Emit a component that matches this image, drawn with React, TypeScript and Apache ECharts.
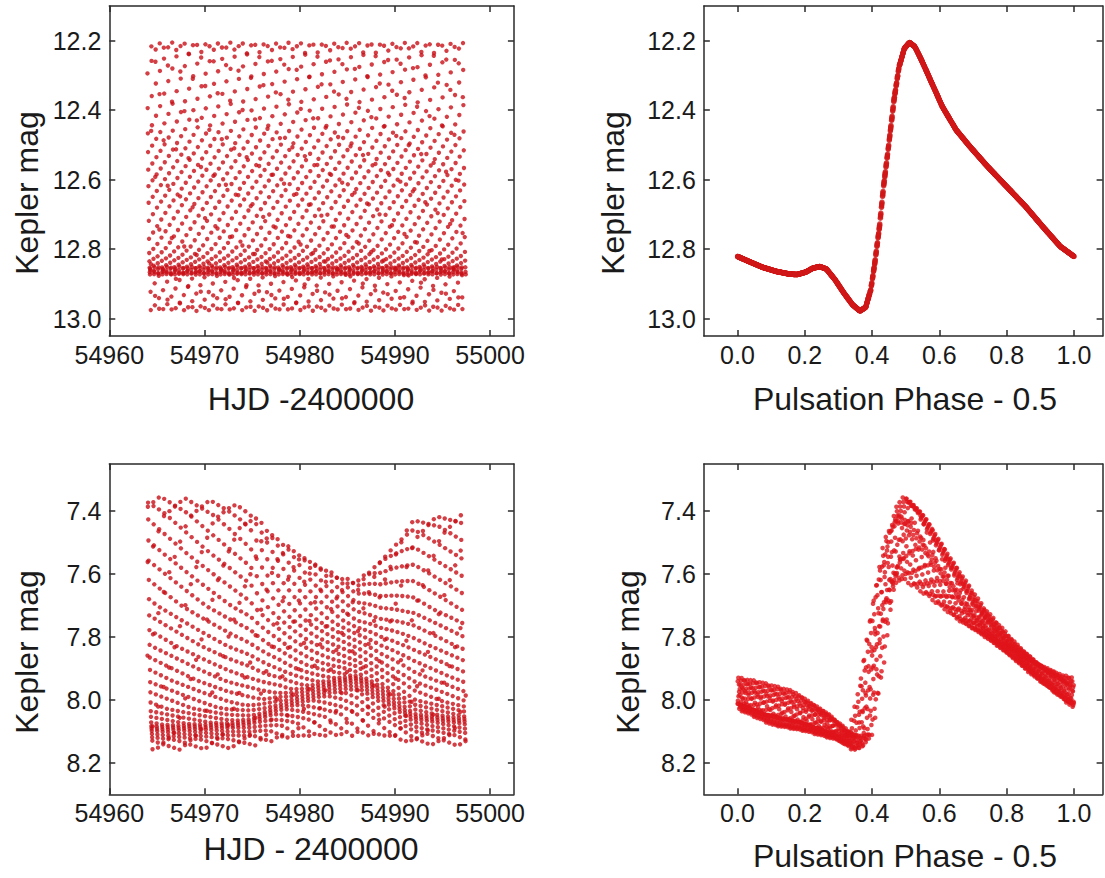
import React, { useEffect, useRef } from "react";
import * as echarts from "echarts";

// ---------- Observation window (Kepler Q1 long cadence) ----------
const obsStart = 54964.01;
const obsEnd = 54997.45;
const cadence = 0.020434; // days

// ---------- Top star (non-modulated RRab) ----------
const topPeriod = 0.4364;
const topEpoch = 54964.2;
// light curve (phase, Kepler mag)
const topPhase = [0.0, 0.033, 0.074, 0.115, 0.156, 0.177, 0.203, 0.223, 0.244, 0.264, 0.29, 0.316, 0.342, 0.364, 0.381, 0.396, 0.408, 0.422, 0.434, 0.45, 0.465, 0.48, 0.496, 0.511, 0.527, 0.547, 0.578, 0.609, 0.65, 0.691, 0.743, 0.8, 0.856, 0.907, 0.959, 1.0];
const topMag = [12.821, 12.835, 12.852, 12.864, 12.872, 12.873, 12.866, 12.855, 12.85, 12.857, 12.888, 12.926, 12.96, 12.978, 12.967, 12.917, 12.84, 12.735, 12.62, 12.495, 12.371, 12.275, 12.222, 12.205, 12.217, 12.256, 12.323, 12.39, 12.457, 12.505, 12.562, 12.62, 12.677, 12.735, 12.792, 12.821];

// ---------- Bottom star (RR Lyr, Blazhko-modulated) ----------
const botPeriod = 0.566788;
const botEpoch = 54964.35;
// light curves at large and small Blazhko amplitude
const botPhase = [0.0, 0.1, 0.2, 0.3, 0.34, 0.37, 0.4, 0.43, 0.46, 0.49, 0.53, 0.6, 0.7, 0.8, 0.9, 1.0];
const botMagLargeAmp = [8.03, 8.08, 8.1, 8.13, 8.16, 8.1, 7.86, 7.6, 7.41, 7.35, 7.4, 7.53, 7.7, 7.83, 7.94, 8.03];
const botMagSmallAmp = [7.92, 7.94, 7.97, 8.04, 8.09, 8.12, 8.04, 7.88, 7.73, 7.64, 7.62, 7.67, 7.75, 7.81, 7.87, 7.92];
// Blazhko state over time, read off the bottom-left envelopes
// (0 = large amplitude, 1 = small amplitude; shift = pulsation phase shift)
const blazhkoTime = [54964, 54969.5, 54972.5, 54974.8, 54977.8, 54981.2, 54984.5, 54986, 54988.6, 54992, 54997.5];
const blazhkoState = [0, 0.04, 0.07, 0.15, 0.48, 0.74, 0.96, 1.0, 0.72, 0.26, 0.19];
const blazhkoShift = [0.0, -0.015, -0.025, -0.035, -0.02, 0.01, 0.03, 0.04, 0.045, 0.025, 0.005];

// ---------- Axes ----------
const hjdTicks = [54960, 54970, 54980, 54990, 55000];
const phaseTicks = [0, 0.2, 0.4, 0.6, 0.8, 1.0];
const topMagTicks = [12.2, 12.4, 12.6, 12.8, 13.0];
const botMagTicks = [7.4, 7.6, 7.8, 8.0, 8.2];

function interp(xs: number[], ys: number[], x: number): number {
  if (x <= xs[0]) return ys[0];
  for (let i = 1; i < xs.length; i++) {
    if (x <= xs[i]) {
      const f = (x - xs[i - 1]) / (xs[i] - xs[i - 1]);
      return ys[i - 1] + f * (ys[i] - ys[i - 1]);
    }
  }
  return ys[ys.length - 1];
}
function frac(v: number) {
  return v - Math.floor(v);
}

const times: number[] = [];
for (let t = obsStart; t <= obsEnd; t += cadence) times.push(t);

const topTimeData: number[][] = [];
const topPhaseData: number[][] = [];
const botTimeData: number[][] = [];
const botPhaseData: number[][] = [];
times.forEach((t) => {
  const p1 = frac((t - topEpoch) / topPeriod);
  const m1 = interp(topPhase, topMag, p1);
  topTimeData.push([t, m1]);
  topPhaseData.push([p1, m1]);
  const p2 = frac((t - botEpoch) / botPeriod);
  const w = interp(blazhkoTime, blazhkoState, t);
  const q = frac(p2 + interp(blazhkoTime, blazhkoShift, t));
  const m2 = (1 - w) * interp(botPhase, botMagLargeAmp, q) + w * interp(botPhase, botMagSmallAmp, q);
  botTimeData.push([t, m2]);
  botPhaseData.push([p2, m2]);
});

const FONT = "'Liberation Sans', Arial, Helvetica, sans-serif";
const AX = "#2a2a2a";
const TXT = "#1a1a1a";

function xAxes(gridIndex: number, min: number, max: number, ticks: number[], fmt: (v: number) => string) {
  const base = {
    type: "value",
    gridIndex,
    min,
    max,
    splitLine: { show: false },
    axisLine: { show: true, onZero: false, lineStyle: { color: AX, width: 1.5 } },
    axisTick: { show: true, inside: true, length: 6, customValues: ticks, lineStyle: { color: AX, width: 1.5 } },
  };
  return [
    {
      ...base,
      position: "bottom",
      axisLabel: { show: true, customValues: ticks, formatter: fmt, color: TXT, fontSize: 25, fontFamily: FONT, margin: 6 },
    },
    { ...base, position: "top", axisLabel: { show: false } },
  ];
}
function yAxes(gridIndex: number, min: number, max: number, ticks: number[]) {
  const base = {
    type: "value",
    gridIndex,
    min,
    max,
    inverse: true,
    splitLine: { show: false },
    axisLine: { show: true, onZero: false, lineStyle: { color: AX, width: 1.5 } },
    axisTick: { show: true, inside: true, length: 6, customValues: ticks, lineStyle: { color: AX, width: 1.5 } },
  };
  return [
    {
      ...base,
      position: "left",
      axisLabel: { show: true, customValues: ticks, formatter: (v: number) => v.toFixed(1), color: TXT, fontSize: 25, fontFamily: FONT, margin: 8 },
    },
    { ...base, position: "right", axisLabel: { show: false } },
  ];
}

function title(text: string, x: number, y: number, rotated: boolean) {
  return {
    type: "text",
    x,
    y,
    rotation: rotated ? Math.PI / 2 : 0,
    style: {
      text,
      fill: TXT,
      fontSize: 32,
      fontFamily: FONT,
      align: "center",
      verticalAlign: "middle",
      textAlign: "center",
      textVerticalAlign: "middle",
    },
  };
}

const hjdFmt = (v: number) => String(Math.round(v));
const phFmt = (v: number) => v.toFixed(1);

const option = {
  animation: false,
  backgroundColor: "#ffffff",
  grid: [
    { left: 109.3, top: 6, width: 404.6, height: 330 },
    { left: 703.85, top: 6, width: 398.75, height: 330 },
    { left: 109.3, top: 464, width: 404.6, height: 330.3 },
    { left: 703.85, top: 464, width: 398.75, height: 330.3 },
  ],
  xAxis: [
    ...xAxes(0, 54960, 55002.5, hjdTicks, hjdFmt),
    ...xAxes(1, -0.1, 1.085, phaseTicks, phFmt),
    ...xAxes(2, 54960, 55002.5, hjdTicks, hjdFmt),
    ...xAxes(3, -0.1, 1.085, phaseTicks, phFmt),
  ],
  yAxis: [
    ...yAxes(0, 12.1, 13.05, topMagTicks),
    ...yAxes(1, 12.1, 13.05, topMagTicks),
    ...yAxes(2, 7.25, 8.3, botMagTicks),
    ...yAxes(3, 7.25, 8.3, botMagTicks),
  ],
  series: [
    {
      type: "scatter",
      xAxisIndex: 0,
      yAxisIndex: 0,
      data: topTimeData,
      symbol: "circle",
      symbolSize: 4.4,
      itemStyle: { color: "#c80f16" },
      silent: true,
    },
    {
      type: "scatter",
      xAxisIndex: 2,
      yAxisIndex: 2,
      data: topPhaseData,
      symbol: "circle",
      symbolSize: 5.5,
      itemStyle: { color: "#d01616" },
      silent: true,
    },
    {
      type: "scatter",
      xAxisIndex: 4,
      yAxisIndex: 4,
      data: botTimeData,
      symbol: "circle",
      symbolSize: 4.4,
      itemStyle: { color: "#c80f16" },
      silent: true,
    },
    {
      type: "scatter",
      xAxisIndex: 6,
      yAxisIndex: 6,
      data: botPhaseData,
      symbol: "circle",
      symbolSize: 4.6,
      itemStyle: { color: "#e0141a" },
      silent: true,
    },
  ],
  graphic: [
    title("Kepler mag", 27, 193, true),
    title("Kepler mag", 613, 193, true),
    title("Kepler mag", 27, 652, true),
    title("Kepler mag", 628, 652, true),
    title("HJD -2400000", 311, 399, false),
    title("Pulsation Phase - 0.5", 905, 399, false),
    title("HJD - 2400000", 311, 849, false),
    title("Pulsation Phase - 0.5", 905, 856, false),
  ],
};

export default function App() {
  const ref = useRef<HTMLDivElement>(null);
  useEffect(() => {
    document.body.style.margin = "0";
    const chart = echarts.init(ref.current as HTMLDivElement, null, { renderer: "svg" });
    chart.setOption(option as any);
    return () => chart.dispose();
  }, []);
  return (
    <div
      ref={ref}
      style={{ position: "absolute", left: 0, top: 0, width: 1105, height: 878, background: "#fff" }}
    />
  );
}
